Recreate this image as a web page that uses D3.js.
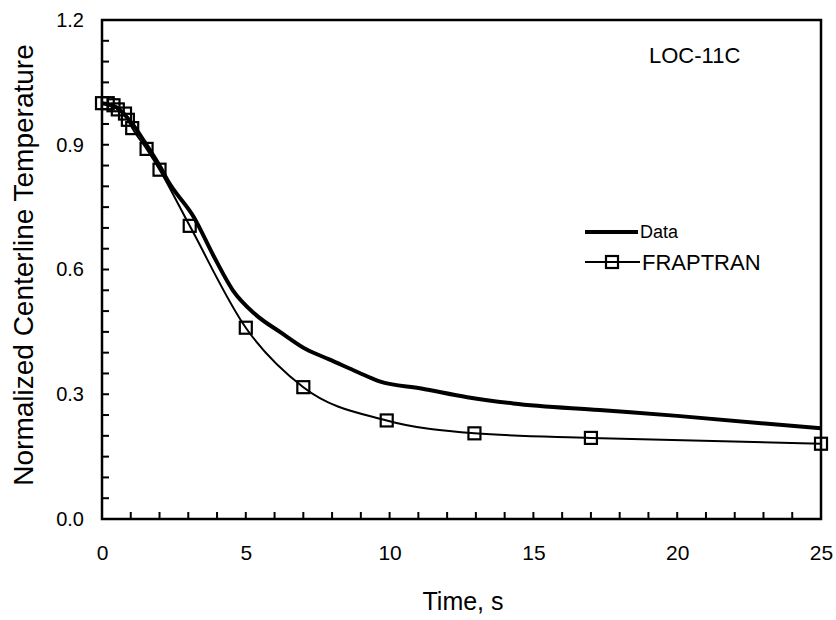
<!DOCTYPE html>
<html>
<head>
<meta charset="utf-8">
<script src="https://cdn.jsdelivr.net/npm/d3@7"></script>
<style>
  body { margin: 0; background: #fff; }
  svg { display: block; }
  text { font-family: "Liberation Sans", Arial, Helvetica, sans-serif; fill: #000; }
</style>
</head>
<body>
<svg id="chart"></svg>
<script>
// Measured data (thick line)
const dataTime = [0, 0.5, 1, 1.5, 2, 2.3, 3.2, 3.9, 4.55, 5.3, 6.25, 7.1, 7.9, 8.9, 9.65, 11.1, 12.7, 14.3, 17.3, 20, 25];
const dataTemp = [1.0, 0.99, 0.955, 0.905, 0.85, 0.812, 0.725, 0.63, 0.55, 0.494, 0.447, 0.408, 0.384, 0.353, 0.331, 0.314, 0.293, 0.278, 0.262, 0.248, 0.218];

// FRAPTRAN calculation (thin line with squares)
const fraTime = [0, 0.2, 0.4, 0.55, 0.8, 0.9, 1.05, 1.55, 2.0, 3.05, 5.0, 7.0, 9.9, 12.95, 17.0, 25];
const fraTemp = [1.0, 1.0, 0.995, 0.985, 0.975, 0.96, 0.94, 0.89, 0.84, 0.705, 0.46, 0.317, 0.237, 0.206, 0.195, 0.181];

// Axis ticks
const xLabels = [0, 5, 10, 15, 20, 25];
const yLabels = [0.0, 0.3, 0.6, 0.9, 1.2];
const xMinor = d3.range(1, 25, 1);
const yMinor = d3.range(1, 24, 1).map(i => i * 0.05);

const width = 836;
const height = 620;

const svg = d3.select("#chart")
    .attr("width", width)
    .attr("height", height);

const x = d3.scaleLinear().domain([0, 25]).range([102, 821]);
const y = d3.scaleLinear().domain([0, 1.2]).range([519, 20]);

// frame
svg.append("rect")
    .attr("x", x(0))
    .attr("y", y(1.2))
    .attr("width", x(25) - x(0))
    .attr("height", y(0) - y(1.2))
    .attr("fill", "none")
    .attr("stroke", "#000")
    .attr("stroke-width", 2.5);

// inward minor ticks
svg.append("g").selectAll("line")
    .data(xMinor)
    .enter()
    .append("line")
    .attr("x1", d => x(d)).attr("x2", d => x(d))
    .attr("y1", y(0)).attr("y2", y(0) - 7)
    .attr("stroke", "#000")
    .attr("stroke-width", 2);

svg.append("g").selectAll("line")
    .data(yMinor)
    .enter()
    .append("line")
    .attr("x1", x(0)).attr("x2", x(0) + 7)
    .attr("y1", d => y(d)).attr("y2", d => y(d))
    .attr("stroke", "#000")
    .attr("stroke-width", 2);

// tick labels
svg.append("g")
    .attr("transform", `translate(0, ${y(0)})`)
    .call(d3.axisBottom(x).tickValues(xLabels).tickSize(0).tickPadding(26).tickFormat(d3.format("d")))
    .call(g => g.select(".domain").remove())
    .selectAll("text")
    .attr("font-size", "21px")
    .attr("fill", "#000");

svg.append("g")
    .attr("transform", `translate(${x(0)}, 0)`)
    .call(d3.axisLeft(y).tickValues(yLabels).tickSize(0).tickPadding(18).tickFormat(d3.format(".1f")))
    .call(g => g.select(".domain").remove())
    .selectAll("text")
    .attr("font-size", "20px")
    .attr("fill", "#000");

// axis titles
svg.append("text")
    .attr("x", 463)
    .attr("y", 610)
    .attr("text-anchor", "middle")
    .attr("font-size", "25px")
    .text("Time, s");

svg.append("text")
    .attr("transform", "translate(33, 265) rotate(-90)")
    .attr("text-anchor", "middle")
    .attr("font-size", "28px")
    .text("Normalized Centerline Temperature");

// case label
svg.append("text")
    .attr("x", 649)
    .attr("y", 63)
    .attr("font-size", "22px")
    .text("LOC-11C");

// lines
const dataPts = dataTime.map((t, i) => [t, dataTemp[i]]);
const fraPts = fraTime.map((t, i) => [t, fraTemp[i]]);

const line = d3.line()
    .x(d => x(d[0]))
    .y(d => y(d[1]))
    .curve(d3.curveMonotoneX);

svg.append("path")
    .datum(fraPts)
    .attr("fill", "none")
    .attr("stroke", "#000")
    .attr("stroke-width", 2)
    .attr("d", line);

svg.append("path")
    .datum(dataPts)
    .attr("fill", "none")
    .attr("stroke", "#000")
    .attr("stroke-width", 4)
    .attr("stroke-linejoin", "round")
    .attr("d", line);

const sq = 12;
svg.selectAll("rect.mark")
    .data(fraPts)
    .enter()
    .append("rect")
    .attr("class", "mark")
    .attr("x", d => x(d[0]) - sq / 2)
    .attr("y", d => y(d[1]) - sq / 2)
    .attr("width", sq)
    .attr("height", sq)
    .attr("fill", "none")
    .attr("stroke", "#000")
    .attr("stroke-width", 2.2);

// legend
const legend = svg.append("g");
legend.append("line")
    .attr("x1", 585).attr("x2", 638)
    .attr("y1", 232).attr("y2", 232)
    .attr("stroke", "#000")
    .attr("stroke-width", 4);
legend.append("text")
    .attr("x", 640)
    .attr("y", 238)
    .attr("font-size", "18px")
    .text("Data");

legend.append("line")
    .attr("x1", 585).attr("x2", 640)
    .attr("y1", 262).attr("y2", 262)
    .attr("stroke", "#000")
    .attr("stroke-width", 2);
legend.append("rect")
    .attr("x", 612 - sq / 2)
    .attr("y", 262 - sq / 2)
    .attr("width", sq)
    .attr("height", sq)
    .attr("fill", "none")
    .attr("stroke", "#000")
    .attr("stroke-width", 2.2);
legend.append("text")
    .attr("x", 642)
    .attr("y", 270)
    .attr("font-size", "22px")
    .text("FRAPTRAN");
</script>
</body>
</html>
